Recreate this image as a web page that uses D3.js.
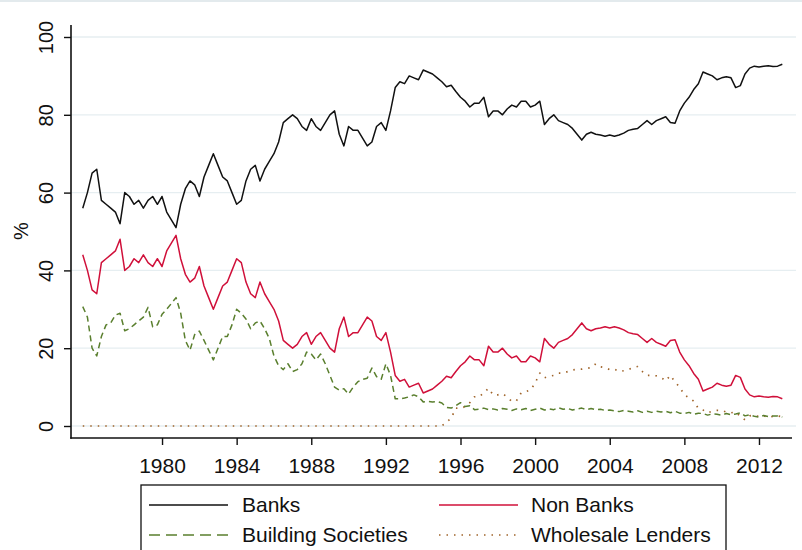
<!DOCTYPE html>
<html>
<head>
<meta charset="utf-8">
<script src="https://cdn.jsdelivr.net/npm/d3@7/dist/d3.min.js"></script>
<style>
  body { margin: 0; background: #fff; }
  text { font-family: "Liberation Sans", Arial, sans-serif; fill: #111; }
</style>
</head>
<body>
<svg width="802" height="550"></svg>
<script>
// quarterly observations, first one at 1975 Q4
var startYear = 1975.75, step = 0.25;

var banks = [56,
  60, 65, 66, 58,   57, 56, 55, 52,   60, 59, 57, 58,   56, 58, 59, 57,
  59, 55, 53, 51,   57, 61, 63, 62,   59, 64, 67, 70,   67, 64, 63, 60,
  57, 58, 63, 66,   67, 63, 66, 68,   70, 73, 78, 79,   80, 79, 77, 76,
  79, 77, 76, 78,   80, 81, 75, 72,   77, 76, 76, 74,   72, 73, 77, 78,
  76, 81, 87, 88.5, 88, 90, 89.5, 89, 91.5, 91, 90.5, 89.5, 88.5, 87.2, 87.6, 86,
  84.5, 83.5, 82, 83, 83, 84.5, 79.5, 81, 81, 80, 81.5, 82.5, 82, 83.5, 83.5, 82,
  82.5, 83.5, 77.5, 79, 80, 78.5, 78, 77.5, 76.5, 75, 73.5, 75, 75.5, 75, 74.8, 74.5,
  74.8, 74.5, 74.8, 75.3, 76, 76.3, 76.5, 77.5, 78.5, 77.5, 78.5, 79, 79.5, 78, 77.8, 81,
  83, 84.5, 86.5, 88, 91, 90.5, 90, 89, 89.5, 89.8, 89.5, 87, 87.5, 90.5, 92, 92.5,
  92.3, 92.5, 92.6, 92.4, 92.5, 93];

var nonBanks = [44,
  40, 35, 34, 42,   43, 44, 45, 48,   40, 41, 43, 42,   44, 42, 41, 43,
  41, 45, 47, 49,   43, 39, 37, 38,   41, 36, 33, 30,   33, 36, 37, 40,
  43, 42, 37, 34,   33, 37, 34, 32,   30, 27, 22, 21,   20, 21, 23, 24,
  21, 23, 24, 22,   20, 19, 25, 28,   23, 24, 24, 26,   28, 27, 23, 22,
  24, 19, 13, 11.5, 12, 10, 10.5, 11, 8.5, 9, 9.5, 10.5, 11.5, 12.8, 12.4, 14,
  15.5, 16.5, 18, 17, 17, 15.5, 20.5, 19, 19, 20, 18.5, 17.5, 18, 16.5, 16.5, 18,
  17.5, 16.5, 22.5, 21, 20, 21.5, 22, 22.5, 23.5, 25, 26.5, 25, 24.5, 25, 25.2, 25.5,
  25.2, 25.5, 25.2, 24.7, 24, 23.7, 23.5, 22.5, 21.5, 22.5, 21.5, 21, 20.5, 22, 22.2, 19,
  17, 15.5, 13.5, 12, 9, 9.5, 10, 11, 10.5, 10.2, 10.5, 13, 12.5, 9.5, 8, 7.5,
  7.7, 7.5, 7.4, 7.6, 7.5, 7];

var buildingSocieties = [30.7,
  28, 20, 18, 23,   26, 26.5, 28.5, 29,   24.5, 25, 26, 27,   28, 30.5, 25.5, 26,
  28.7, 30, 31.5, 33,   29, 22, 19.5, 23.5,   24.4, 22, 19.5, 17,   20, 23, 23, 26,
  30, 29, 27.5, 25,   26.5, 27, 25, 22.5,   18, 15.5, 14.5, 16,   14, 14.5, 16, 19,
  18.5, 17, 18.5, 16,   13, 10, 9.2, 9.6,   8.2, 10, 11.4, 12,   12.3, 14.9, 12.7, 12,
  16, 13, 7, 7,   7.2, 7.5, 8, 7.5,   6.2, 6.3, 6.2, 6.3,   5.9, 4.8, 4.6, 5.2,
  6, 5, 5.2, 4.2,   4.3, 4.6, 4.2, 4.4,   4.1, 4.5, 4.3, 4.0,   4.4, 4.2, 4.5, 4.0,
  4.3, 4.6, 4.1, 4.4,   4.2, 4.7, 4.3, 4.5,   4.1, 4.4, 4.6, 4.2,   4.5, 4.2, 4.3, 4.0,
  4.1, 3.9, 3.7, 4.0,   3.8, 3.6, 3.9, 3.5,   3.8, 3.5, 3.8, 3.6,   3.8, 3.4, 3.8, 3.3,
  3.2, 3.5, 3.0, 3.3,   3.2, 2.8, 3.1, 3.0,   2.8, 3.2, 2.9, 3.1,   3.4, 2.6, 2.9, 2.5,
  2.3, 2.7, 2.4, 2.6,   2.6, 2.3];

var wholesaleLenders = [0,
  0, 0, 0, 0,   0, 0, 0, 0,   0, 0, 0, 0,   0, 0, 0, 0,
  0, 0, 0, 0,   0, 0, 0, 0,   0, 0, 0, 0,   0, 0, 0, 0,
  0, 0, 0, 0,   0, 0, 0, 0,   0, 0, 0, 0,   0, 0, 0, 0,
  0, 0, 0, 0,   0, 0, 0, 0,   0, 0, 0, 0,   0, 0, 0, 0,
  0, 0, 0, 0,   0, 0, 0, 0,   0, 0, 0, 0,   0, 1, 2, 4.6,
  4.5, 5, 6, 7.5,   7.5, 8.5, 9.7, 8,   8, 8.3, 7.5, 6.3,   6.5, 8.5, 8.8, 9.3,
  11, 13.6, 12.4, 12.8,   13, 13.6, 13.6, 14,   14.4, 14.6, 14.6, 14.8,   15, 16, 15.2, 15,
  14.5, 14.6, 14, 14.2,   14.5, 15, 15.3, 14,   13, 13, 12.9, 12.5,   11.6, 13, 11.3, 10,
  8, 7.3, 6.4, 4.5,   4.1, 3.4, 3.8, 4,   4, 3.6, 3.4, 3.6,   2.5, 1.6, 2.6, 2.8,
  2.4, 2.6, 2.2, 2.5,   2.6, 2.4];

var yTicks = [0, 20, 40, 60, 80, 100];
var xTicks = [1980, 1984, 1988, 1992, 1996, 2000, 2004, 2008, 2012];

var series = [
  {name: "Banks", values: banks, color: "#111111", dash: null, width: 1.5},
  {name: "Non Banks", values: nonBanks, color: "#d0103a", dash: null, width: 1.5},
  {name: "Building Societies", values: buildingSocieties, color: "#5a7f2e", dash: "6,4", width: 1.5},
  {name: "Wholesale Lenders", values: wholesaleLenders, color: "#a0642a", dash: "1.5,6", width: 1.7}
];

var svg = d3.select("svg");

var x = d3.scaleLinear().domain([1975.12, 2013.77]).range([71, 792]);
var y = d3.scaleLinear().domain([0, 100]).range([426, 37]);

// faint outer edge at the top
svg.append("line")
    .attr("x1", 0).attr("x2", 802).attr("y1", 1).attr("y2", 1)
    .style("stroke", "#e3eaed").style("stroke-width", 2);

// gridlines
svg.append("g").selectAll("line")
    .data(yTicks)
    .enter().append("line")
    .attr("x1", 71).attr("x2", 796)
    .attr("y1", function(d) { return y(d); })
    .attr("y2", function(d) { return y(d); })
    .style("stroke", "#e6eef1")
    .style("stroke-width", 1.3);

// series
var line = d3.line()
    .x(function(d, i) { return x(startYear + i * step); })
    .y(function(d) { return y(d); });

svg.append("g").selectAll("path")
    .data(series.slice().reverse())
    .enter().append("path")
    .attr("d", function(s) { return line(s.values); })
    .style("fill", "none")
    .style("stroke", function(s) { return s.color; })
    .style("stroke-width", function(s) { return s.width; })
    .style("stroke-dasharray", function(s) { return s.dash; })
    .style("stroke-linejoin", "round");

// axes
var yAxis = svg.append("g")
    .attr("transform", "translate(71,0)")
    .call(d3.axisLeft(y).tickValues(yTicks).tickSize(7));
yAxis.select(".domain").remove();
yAxis.selectAll("line").style("stroke", "#111").style("stroke-width", 1.4);
yAxis.selectAll("text")
    .attr("transform", "rotate(-90)")
    .attr("x", 0).attr("y", -18).attr("dy", 0)
    .style("text-anchor", "middle")
    .style("font-size", "20px")
    .style("font-family", "'Liberation Sans', Arial, sans-serif")
    .style("fill", "#111");

var xAxis = svg.append("g")
    .attr("transform", "translate(0,438)")
    .call(d3.axisBottom(x).tickValues(xTicks).tickSize(7).tickFormat(d3.format("d")));
xAxis.select(".domain").remove();
xAxis.selectAll("line").style("stroke", "#111").style("stroke-width", 1.4);
xAxis.selectAll("text")
    .attr("y", 35).attr("dy", 0)
    .style("font-size", "21px")
    .style("font-family", "'Liberation Sans', Arial, sans-serif")
    .style("fill", "#111");

svg.append("line")
    .attr("x1", 71).attr("x2", 71).attr("y1", 25).attr("y2", 438.7)
    .style("stroke", "#111").style("stroke-width", 1.6);
svg.append("line")
    .attr("x1", 70.2).attr("x2", 792).attr("y1", 438).attr("y2", 438)
    .style("stroke", "#111").style("stroke-width", 1.6);

svg.append("text")
    .attr("transform", "translate(28,231) rotate(-90)")
    .style("text-anchor", "middle")
    .style("font-size", "20px")
    .text("%");

// legend
var legend = svg.append("g");
legend.append("rect")
    .attr("x", 141).attr("y", 485).attr("width", 585).attr("height", 90)
    .style("fill", "#fff").style("stroke", "#111").style("stroke-width", 1.3);

var legendPos = [
  {lx: 149, tx: 242, y: 505},
  {lx: 439, tx: 531, y: 505},
  {lx: 149, tx: 242, y: 535},
  {lx: 439, tx: 531, y: 535}
];

var item = legend.selectAll(".item")
    .data(series)
    .enter().append("g")
    .attr("class", "item");

item.append("line")
    .attr("x1", function(d, i) { return legendPos[i].lx; })
    .attr("x2", function(d, i) { return legendPos[i].lx + 79; })
    .attr("y1", function(d, i) { return legendPos[i].y; })
    .attr("y2", function(d, i) { return legendPos[i].y; })
    .style("stroke", function(d) { return d.color; })
    .style("stroke-width", function(d) { return d.width; })
    .style("stroke-dasharray", function(d) { return d.name === "Building Societies" ? "11,6" : d.dash; });

item.append("text")
    .attr("x", function(d, i) { return legendPos[i].tx; })
    .attr("y", function(d, i) { return legendPos[i].y + 7; })
    .style("font-size", "21px")
    .text(function(d) { return d.name; });
</script>
</body>
</html>
